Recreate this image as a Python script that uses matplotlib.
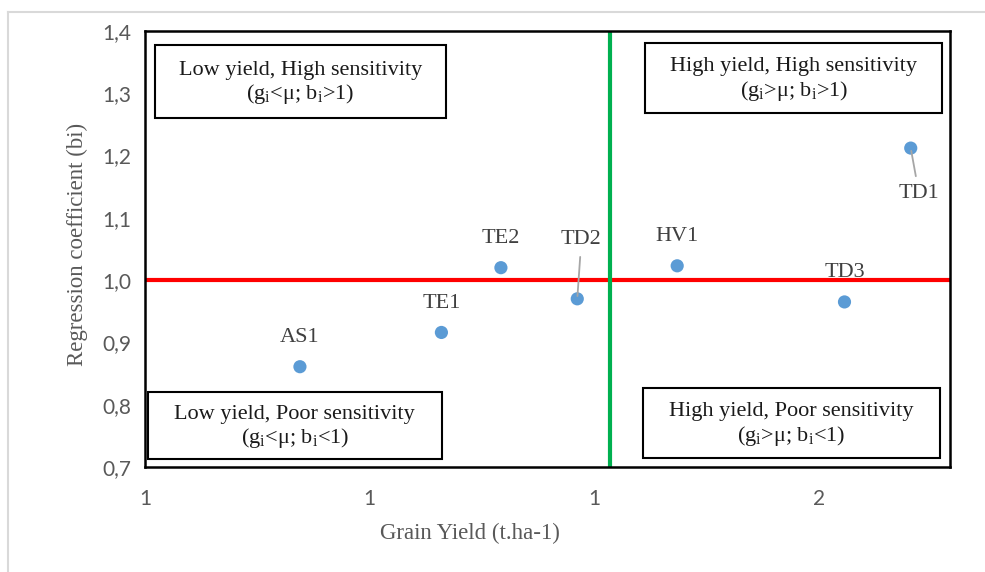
import matplotlib.pyplot as plt
from matplotlib.lines import Line2D

plt.rcParams['mathtext.fontset'] = 'custom'
plt.rcParams['mathtext.rm'] = 'Liberation Serif'

# Genotype stability data: mean grain yield vs. regression coefficient
genotypes = ['AS1', 'TE1', 'TE2', 'TD2', 'HV1', 'TD3', 'TD1']
grain_yield = [1.138, 1.264, 1.317, 1.385, 1.474, 1.623, 1.682]
reg_coef = [0.861, 0.916, 1.020, 0.970, 1.023, 0.965, 1.212]
mean_yield = 1.414

x_ticks = [1.0, 1.2, 1.4, 1.6]
x_tick_labels = ['1', '1', '1', '2']
y_ticks = [0.7, 0.8, 0.9, 1.0, 1.1, 1.2, 1.3, 1.4]
y_tick_labels = ['0,7', '0,8', '0,9', '1,0', '1,1', '1,2', '1,3', '1,4']

# label offsets in points (dx, dy) and whether a leader line is drawn
label_offsets = {
    'AS1': (0, 21, False), 'TE1': (0, 21, False), 'TE2': (0, 21, False),
    'TD2': (3, 43, True), 'HV1': (0, 21, False), 'TD3': (0, 21, False),
    'TD1': (6, -33, True),
}

fig = plt.figure(figsize=(9.85, 5.72), dpi=100)
ax = fig.add_axes([0.1472, 0.1836, 0.8173, 0.7622])

# chart border (top and left only visible)
fig.add_artist(Line2D([8 / 985, 8 / 985], [0, 1 - 12 / 572], transform=fig.transFigure,
                      color='#d9d9d9', lw=1.5))
fig.add_artist(Line2D([8 / 985, 1], [1 - 12 / 572, 1 - 12 / 572], transform=fig.transFigure,
                      color='#d9d9d9', lw=1.5))

ax.set_xlim(1.0, 1.717)
ax.set_ylim(0.7, 1.4)

ax.axhline(1.0, color='#ff0000', lw=3, zorder=2)
ax.axvline(mean_yield, color='#00b050', lw=3, zorder=2)

ax.scatter(grain_yield, reg_coef, s=90, color='#5b9bd5', zorder=4, edgecolors='none')

for name, gx, gy in zip(genotypes, grain_yield, reg_coef):
    dx, dy, leader = label_offsets[name]
    ax.annotate(name, (gx, gy), xytext=(dx, dy), textcoords='offset points',
                ha='center', va='center', fontsize=16, family='Liberation Serif',
                color='#404040', zorder=5,
                arrowprops=dict(arrowstyle='-', color='#a6a6a6', lw=1.3,
                                shrinkA=4, shrinkB=2) if leader else None)

# quadrant description boxes: centre x, centre y, width, height (axes fraction)
quadrants = [
    (0.193, 0.884, 0.362, 0.167, 'Low yield, High sensitivity',
     r'(g$_\mathregular{i}$<μ; b$_\mathregular{i}$>1)'),
    (0.806, 0.892, 0.369, 0.161, 'High yield, High sensitivity',
     r'(g$_\mathregular{i}$>μ; b$_\mathregular{i}$>1)'),
    (0.186, 0.095, 0.365, 0.154, 'Low yield, Poor sensitivity',
     r'(g$_\mathregular{i}$<μ; b$_\mathregular{i}$<1)'),
    (0.803, 0.101, 0.369, 0.161, 'High yield, Poor sensitivity',
     r'(g$_\mathregular{i}$>μ; b$_\mathregular{i}$<1)'),
]
for cx, cy, w, h, l1, l2 in quadrants:
    ax.add_patch(plt.Rectangle((cx - w / 2, cy - h / 2), w, h, transform=ax.transAxes,
                               facecolor='white', edgecolor='black', lw=1.5, zorder=6))
    ax.text(cx, cy + 0.026, l1, transform=ax.transAxes, ha='center', va='center',
            fontsize=16, family='Liberation Serif', color='#1a1a1a', zorder=7)
    ax.text(cx, cy - 0.029, l2, transform=ax.transAxes, ha='center', va='center',
            fontsize=16, family='Liberation Serif', color='#1a1a1a', zorder=7)

for sp in ax.spines.values():
    sp.set_color('black')
    sp.set_linewidth(1.8)

ax.set_xticks(x_ticks)
ax.set_xticklabels(x_tick_labels)
ax.set_yticks(y_ticks)
ax.set_yticklabels(y_tick_labels)
ax.tick_params(length=0, labelsize=15, labelcolor='#595959')
ax.tick_params(axis='y', pad=10)
ax.tick_params(axis='x', pad=16)
for lbl in ax.get_xticklabels() + ax.get_yticklabels():
    lbl.set_family('Lato')

ax.set_xlabel('Grain Yield (t.ha-1)', fontsize=16.5, family='Liberation Serif',
              color='#595959')
ax.set_ylabel('Regression coefficient (bi)', fontsize=16.5, family='Liberation Serif',
              color='#595959')
ax.xaxis.set_label_coords(0.404, -0.128)
ax.yaxis.set_label_coords(-0.071, 0.51)

fig.savefig('out.png', dpi=100)
